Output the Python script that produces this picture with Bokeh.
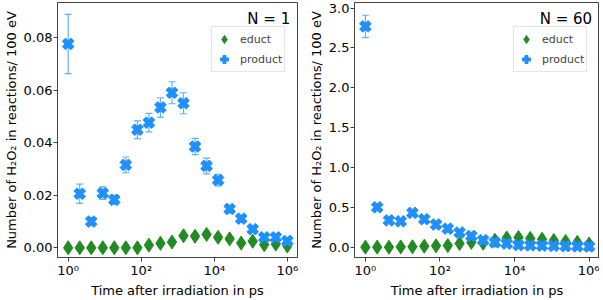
import numpy as np
from bokeh.plotting import figure
from bokeh.layouts import row
from bokeh.models import (FixedTicker, NumeralTickFormatter, Range1d, Label,
                          Legend, LegendItem, ColumnDataSource)
from bokeh.embed import file_html
from bokeh.resources import INLINE

# ---------------- data ----------------
time_ps = [1, 2.07, 4.28, 8.86, 18.3, 37.9, 78.5, 162, 336, 695, 1438, 2976,
           6158, 12743, 26367, 54556, 112884, 233572, 483293, 1000000]

# N = 1
n1_educt = [0, 0, 0, 0, 0, 0, 0, 0.0010, 0.0017, 0.0022, 0.0046, 0.0044,
            0.0051, 0.0040, 0.0034, 0.0018, 0.0025, 0.0012, 0.0014, 0.0007]
n1_educt_err = [0.0002, 0.0002, 0.0002, 0.0002, 0.0002, 0.0002, 0.0002, 0.0004,
                0.0005, 0.0006, 0.0008, 0.0008, 0.0008, 0.0007, 0.0007, 0.0005,
                0.0005, 0.0004, 0.0004, 0.0003]
n1_product = [0.0777, 0.0206, 0.0100, 0.0208, 0.0183, 0.0316, 0.0450, 0.0477,
              0.0535, 0.0591, 0.0551, 0.0386, 0.0312, 0.0258, 0.0148, 0.0111,
              0.0071, 0.0040, 0.0040, 0.0026]
n1_product_err = [0.0113, 0.0037, 0.0015, 0.0024, 0.0018, 0.0030, 0.0034, 0.0035,
                  0.0037, 0.0042, 0.0040, 0.0031, 0.0030, 0.0022, 0.0015, 0.0012,
                  0.0010, 0.0008, 0.0008, 0.0006]

# N = 60
n60_educt = [0, 0, 0, 0.003, 0.005, 0.012, 0.016, 0.020, 0.045, 0.060, 0.050,
             0.085, 0.115, 0.120, 0.110, 0.100, 0.084, 0.072, 0.060, 0.040]
n60_educt_err = [0.002, 0.002, 0.002, 0.002, 0.002, 0.003, 0.003, 0.003, 0.004,
                 0.005, 0.005, 0.006, 0.007, 0.007, 0.007, 0.006, 0.006, 0.005,
                 0.005, 0.004]
n60_product = [2.77, 0.50, 0.336, 0.324, 0.43, 0.35, 0.284, 0.232, 0.184, 0.14,
               0.088, 0.060, 0.044, 0.025, 0.022, 0.018, 0.015, 0.012, 0.010, 0.008]
n60_product_err = [0.14, 0.025, 0.020, 0.020, 0.025, 0.020, 0.018, 0.015, 0.013,
                   0.011, 0.009, 0.007, 0.006, 0.005, 0.005, 0.004, 0.004, 0.003,
                   0.003, 0.003]

x_ticks = [1, 100, 10000, 1000000]
x_tick_labels = ["10⁰", "10²", "10⁴", "10⁶"]
n1_yticks = [0, 0.02, 0.04, 0.06, 0.08]
n60_yticks = [0, 0.5, 1.0, 1.5, 2.0, 2.5, 3.0]

EDUCT = "#228B22"
PRODUCT = "#1E90FF"
PRODUCT_ERR = "#5FB0FF"
FONT = "DejaVu Sans"
AX = "#444444"
FRAME_H = 255
LEG_H = 44


def make_panel(title, educt, educt_err, product, product_err, yr, yticks, yfmt,
               frame_w, border_r, legend_xy, title_y):
    p = figure(x_axis_type="log", output_backend="svg", toolbar_location=None,
               frame_width=frame_w, frame_height=FRAME_H,
               x_range=Range1d(0.51, 1.9e6), y_range=Range1d(*yr),
               min_border_left=0, min_border_right=border_r, min_border_top=2,
               min_border_bottom=0)
    p.xgrid.visible = False
    p.ygrid.visible = False
    p.outline_line_color = AX
    p.outline_line_width = 1
    p.background_fill_color = "white"

    r_e = None
    for vals, errs, col in ((educt, educt_err, EDUCT), (product, product_err, PRODUCT_ERR)):
        src = ColumnDataSource(dict(
            x=time_ps, lo=[v - e for v, e in zip(vals, errs)],
            hi=[v + e for v, e in zip(vals, errs)]))
        p.segment(x0="x", y0="lo", x1="x", y1="hi", line_color=col,
                  line_width=1.2, source=src)
        p.scatter("x", "lo", marker="dash", size=7, line_color=col,
                  line_width=1.2, source=src)
        p.scatter("x", "hi", marker="dash", size=7, line_color=col,
                  line_width=1.2, source=src)
        if col == EDUCT:
            r_e = p.scatter(time_ps, educt, marker="diamond", size=14,
                            fill_color=EDUCT, line_color=EDUCT)

    r_p = p.scatter(time_ps, product, marker="plus", angle=np.pi / 4, size=12,
                    fill_color=PRODUCT, line_color=PRODUCT)

    legend = Legend(items=[LegendItem(label="educt", renderers=[r_e]),
                           LegendItem(label="product", renderers=[r_p])],
                    location=legend_xy, label_text_font_size="11px",
                    label_text_font=FONT, glyph_height=20, glyph_width=20,
                    label_height=15, spacing=0, padding=2, margin=0,
                    label_standoff=6, border_line_color="#cccccc",
                    background_fill_alpha=0.8)
    p.add_layout(legend)

    p.add_layout(Label(x=1.2e6, y=title_y, text=title, text_align="right",
                       text_baseline="top", text_font_size="15px",
                       text_font=FONT, text_color="black"))

    p.xaxis.ticker = FixedTicker(ticks=x_ticks, minor_ticks=[])
    p.xaxis.major_label_overrides = {t: l for t, l in zip(x_ticks, x_tick_labels)}
    p.yaxis.ticker = FixedTicker(ticks=yticks, minor_ticks=[])
    p.yaxis.formatter = NumeralTickFormatter(format=yfmt)
    p.xaxis.axis_label = "Time after irradiation in ps"
    p.yaxis.axis_label = "Number of H₂O₂ in reactions/ 100 eV"
    for ax in (p.xaxis, p.yaxis):
        ax.axis_label_text_font = FONT
        ax.axis_label_text_font_size = "13px"
        ax.axis_label_text_font_style = "normal"
        ax.axis_label_text_color = "black"
        ax.major_label_text_font = FONT
        ax.major_label_text_font_size = "13px"
        ax.major_label_text_color = "black"
        ax.major_tick_out = 4
        ax.major_tick_in = 0
        ax.minor_tick_out = 0
        ax.minor_tick_in = 0
        ax.major_label_standoff = 1
        ax.axis_label_standoff = 2
        ax.axis_line_color = AX
        ax.major_tick_line_color = AX
    return p


p1 = make_panel("N = 1", n1_educt, n1_educt_err, n1_product, n1_product_err,
                (-0.0037, 0.0935), n1_yticks, "0.00", 240, 8,
                (154, FRAME_H - 26 - LEG_H), 0.0905)
p2 = make_panel("N = 60", n60_educt, n60_educt_err, n60_product, n60_product_err,
                (-0.13, 3.07), n60_yticks, "0.0", 245, 0,
                (159, FRAME_H - 26 - LEG_H), 2.97)

layout = row(p1, p2)
open("out.html", "w").write(file_html(layout, INLINE))
